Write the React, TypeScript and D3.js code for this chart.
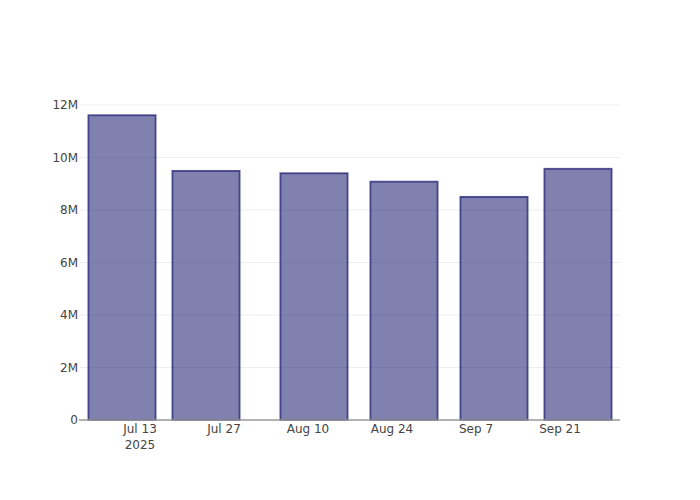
import React from "react";
import * as d3 from "d3";

const dates = ["2025-07-10", "2025-07-24", "2025-08-11", "2025-08-26", "2025-09-10", "2025-09-24"];
const values = [11.61e6, 9.49e6, 9.4e6, 9.08e6, 8.5e6, 9.57e6];
const yTicks = [0, 2e6, 4e6, 6e6, 8e6, 10e6, 12e6];
const xTickDates = ["2025-07-13", "2025-07-27", "2025-08-10", "2025-08-24", "2025-09-07", "2025-09-21"];
const xTickLabels = ["Jul 13", "Jul 27", "Aug 10", "Aug 24", "Sep 7", "Sep 21"];

const W = 700, H = 500;
const M = { l: 80, r: 80, t: 100, b: 80 };
const parse = (s: string) => new Date(s + "T00:00:00Z");

export default function App() {
  const ds = dates.map(parse);
  const minGap = d3.min(ds.slice(1).map((d, i) => +d - +ds[i]))!;
  const x = d3
    .scaleUtc()
    .domain([new Date(+ds[0] - minGap / 2), new Date(+ds[ds.length - 1] + minGap / 2)])
    .range([M.l, W - M.r]);
  const y = d3
    .scaleLinear()
    .domain([0, d3.max(values)! * 1.05])
    .range([H - M.b, M.t]);
  const barW = x(new Date(+ds[0] + minGap * 0.8)) - x(ds[0]);
  const fmt = (v: number) => (v === 0 ? "0" : `${v / 1e6}M`);
  const font = '"DejaVu Sans", Verdana, sans-serif';

  return (
    <svg width={W} height={H} style={{ position: "absolute", left: 0, top: 0, background: "#fff" }}>
      <g>
        {yTicks.slice(1).map((t) => (
          <line key={t} x1={M.l} x2={W - M.r} y1={y(t)} y2={y(t)} stroke="#eeeeee" strokeWidth={1} />
        ))}
      </g>
      <g>
        {ds.map((d, i) => (
          <rect
            key={i}
            x={x(d) - barW / 2}
            y={y(values[i])}
            width={barW}
            height={y(0) - y(values[i])}
            fill="rgb(25,25,112)"
            fillOpacity={0.55}
            stroke="rgba(25,25,112,0.72)"
            strokeWidth={1.8}
          />
        ))}
      </g>
      <line x1={M.l - 1} x2={W - M.r} y1={y(0)} y2={y(0)} stroke="#999" strokeWidth={1.5} />
      <g fontFamily={font} fontSize={12} fill="#444">
        {yTicks.map((t) => (
          <text key={t} x={M.l - 2} y={y(t)} dy="0.35em" textAnchor="end">
            {fmt(t)}
          </text>
        ))}
        {xTickDates.map((s, i) => (
          <text key={s} x={x(parse(s))} y={433} textAnchor="middle">
            {xTickLabels[i]}
          </text>
        ))}
        <text x={x(parse(xTickDates[0]))} y={448.5} textAnchor="middle">
          2025
        </text>
      </g>
    </svg>
  );
}
